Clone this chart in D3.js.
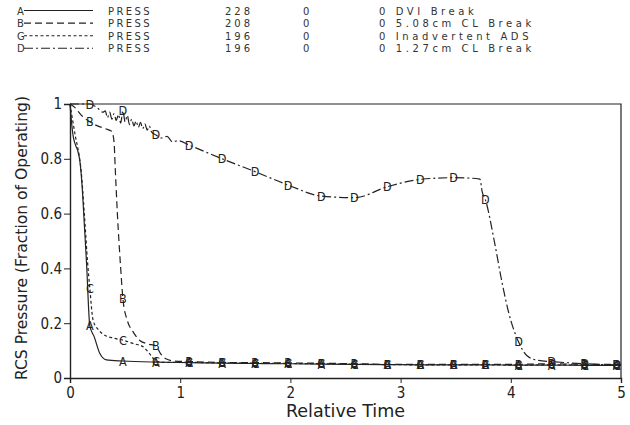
<!DOCTYPE html>
<html>
<head>
<meta charset="utf-8">
<script src="https://cdn.jsdelivr.net/npm/d3@7"></script>
<style>
  body { margin: 0; background: #fff; }
  text { font-family: "DejaVu Sans Condensed", "Liberation Sans Narrow", "DejaVu Sans", sans-serif; font-stretch: condensed; fill: #222; }
  .legend text { font-family: "DejaVu Sans", sans-serif; font-stretch: normal; font-size: 10px; letter-spacing: 3px; fill: #333; }
</style>
</head>
<body>
<div id="chart"></div>
<script>
// legend rows
const legendKeys = ['A', 'B', 'G', 'D']
const legendVar = ['PRESS', 'PRESS', 'PRESS', 'PRESS']
const legendNum = ['228', '208', '196', '196']
const legendZero = ['0', '0', '0', '0']
const legendCase = ['0 DVI Break', '0 5.08cm CL Break', '0 Inadvertent ADS', '0 1.27cm CL Break']

// marker times (shared by all curves)
const markerX = [0.18, 0.48, 0.78, 1.08, 1.38, 1.68, 1.98, 2.28, 2.58, 2.88, 3.18, 3.48, 3.77, 4.07, 4.37, 4.67, 4.96]

// A: DVI break (solid)
const seriesA = [
  [0, 1], [0.01, 0.95], [0.03, 0.88], [0.05, 0.85], [0.07, 0.83], [0.09, 0.79], [0.11, 0.7],
  [0.13, 0.56], [0.15, 0.42], [0.18, 0.19], [0.22, 0.15], [0.27, 0.09], [0.33, 0.066],
  [0.48, 0.062], [0.78, 0.058], [1.08, 0.056], [1.38, 0.054], [1.68, 0.053], [1.98, 0.052],
  [2.28, 0.051], [2.58, 0.05], [2.88, 0.049], [3.18, 0.048], [3.48, 0.048], [3.77, 0.048],
  [4.07, 0.047], [4.37, 0.047], [4.67, 0.046], [4.96, 0.046], [5, 0.046]
]
// B: 5.08cm CL break (long dash)
const seriesB = [
  [0, 1], [0.05, 0.985], [0.1, 0.96], [0.18, 0.935], [0.25, 0.92], [0.32, 0.91], [0.38, 0.9],
  [0.4, 0.86], [0.41, 0.77], [0.43, 0.6], [0.46, 0.4], [0.48, 0.29], [0.52, 0.21], [0.57, 0.17],
  [0.63, 0.138], [0.7, 0.125], [0.78, 0.117], [0.82, 0.09], [0.87, 0.07], [0.95, 0.062],
  [1.08, 0.06], [1.38, 0.057], [1.68, 0.056], [1.98, 0.055], [2.28, 0.054], [2.58, 0.052],
  [2.88, 0.05], [3.18, 0.05], [3.48, 0.05], [3.77, 0.05], [4.07, 0.05], [4.37, 0.052],
  [4.67, 0.05], [4.96, 0.05], [5, 0.05]
]
// G: inadvertent ADS (short dash)
const seriesG = [
  [0, 1], [0.02, 0.95], [0.05, 0.88], [0.08, 0.82], [0.1, 0.76], [0.13, 0.6], [0.16, 0.42],
  [0.18, 0.327], [0.21, 0.21], [0.26, 0.175], [0.3, 0.16], [0.4, 0.145], [0.48, 0.138],
  [0.58, 0.125], [0.66, 0.115], [0.72, 0.09], [0.78, 0.062], [0.85, 0.057], [1.08, 0.057],
  [1.38, 0.055], [1.68, 0.054], [1.98, 0.053], [2.28, 0.052], [2.58, 0.05], [2.88, 0.049],
  [3.18, 0.048], [3.48, 0.048], [3.77, 0.048], [4.07, 0.047], [4.37, 0.048], [4.67, 0.047],
  [4.96, 0.046], [5, 0.046]
]
// D: 1.27cm CL break (dash-dot)
const seriesD = [
  [0, 1], [0.05, 1.0], [0.18, 1.0], [0.25, 0.985], [0.3, 0.97], [0.32, 0.975], [0.34, 0.95],
  [0.36, 0.97], [0.38, 0.945], [0.4, 0.965], [0.42, 0.94], [0.44, 0.962], [0.46, 0.93],
  [0.48, 0.975], [0.5, 0.935], [0.52, 0.958], [0.54, 0.925], [0.56, 0.945], [0.58, 0.92],
  [0.6, 0.938], [0.62, 0.915], [0.64, 0.933], [0.66, 0.91], [0.68, 0.928], [0.7, 0.905],
  [0.72, 0.92], [0.74, 0.898], [0.78, 0.887], [0.83, 0.876], [0.88, 0.882], [0.93, 0.862],
  [0.98, 0.866], [1.08, 0.85], [1.38, 0.8], [1.68, 0.753], [1.98, 0.704], [2.28, 0.664],
  [2.58, 0.658], [2.88, 0.698], [3.18, 0.725], [3.48, 0.731], [3.6, 0.73], [3.72, 0.726],
  [3.74, 0.68], [3.77, 0.65], [3.85, 0.5], [3.92, 0.35], [3.98, 0.24], [4.07, 0.132],
  [4.15, 0.08], [4.25, 0.064], [4.37, 0.06], [4.67, 0.052], [4.96, 0.048], [5, 0.048]
]

const xTicks = [0, 1, 2, 3, 4, 5]
const yTicks = [0, 0.2, 0.4, 0.6, 0.8, 1]

const series = [
  { key: 'A', data: seriesA, dash: null },
  { key: 'B', data: seriesB, dash: '7,4' },
  { key: 'G', data: seriesG, dash: '3,2.5' },
  { key: 'D', data: seriesD, dash: '9,3,2,3' }
]

const width = 630, height = 425
const margin = { top: 104, right: 9, bottom: 47, left: 70 }

const svg = d3.select('#chart').append('svg')
  .attr('width', width)
  .attr('height', height)

// legend
const legend = svg.append('g').attr('class', 'legend')
series.forEach((s, i) => {
  const y = 10.5 + i * 12.6
  legend.append('text').attr('x', 17).attr('y', y + 4).style('letter-spacing', '0px').text(legendKeys[i])
  legend.append('line')
    .attr('x1', 24).attr('x2', 93).attr('y1', y).attr('y2', y)
    .attr('stroke', '#222').attr('stroke-width', 1.1)
    .attr('stroke-dasharray', s.dash)
  legend.append('text').attr('x', 108).attr('y', y + 4).style('letter-spacing', '2.4px').text(legendVar[i])
  legend.append('text').attr('x', 225).attr('y', y + 4).text(legendNum[i])
  legend.append('text').attr('x', 303).attr('y', y + 4).text(legendZero[i])
  legend.append('text').attr('x', 379).attr('y', y + 4).style('letter-spacing', '3.6px').text(legendCase[i])
})

const x = d3.scaleLinear().domain([0, 5]).range([margin.left, width - margin.right])
const y = d3.scaleLinear().domain([0, 1]).range([height - margin.bottom, margin.top])

// frame (top + right)
svg.append('path')
  .attr('d', `M${x(0)},${y(1)}H${x(5)}V${y(0)}`)
  .attr('fill', 'none').attr('stroke', '#222').attr('stroke-width', 1.2)

const xAxis = svg.append('g')
  .attr('transform', `translate(0,${y(0)})`)
  .call(d3.axisBottom(x).tickValues(xTicks).tickFormat(d3.format('d')).tickSize(5).tickPadding(4))
const yAxis = svg.append('g')
  .attr('transform', `translate(${x(0)},0)`)
  .call(d3.axisLeft(y).tickValues(yTicks).tickFormat(d => d === 0 || d === 1 ? d : d3.format('.1f')(d)).tickSize(6).tickPadding(2))

;[xAxis, yAxis].forEach(a => {
  a.select('.domain').attr('stroke', '#222').attr('stroke-width', 1.4)
  a.selectAll('.tick line').attr('stroke', '#222').attr('stroke-width', 1)
  a.selectAll('.tick text').style('font-size', '15px').attr('fill', '#222')
})

// axis titles
svg.append('text')
  .attr('x', (x(0) + x(5)) / 2).attr('y', 417)
  .attr('text-anchor', 'middle')
  .attr('textLength', 119).attr('lengthAdjust', 'spacingAndGlyphs')
  .style('font-size', '18px')
  .text('Relative Time')
svg.append('text')
  .attr('transform', `translate(27,${(y(0) + y(1)) / 2 - 3}) rotate(-90)`)
  .attr('text-anchor', 'middle')
  .attr('textLength', 284).attr('lengthAdjust', 'spacingAndGlyphs')
  .style('font-size', '16.5px')
  .text('RCS Pressure (Fraction of Operating)')

// curves
const line = d3.line()
  .x(d => x(d[0]))
  .y(d => y(d[1]))
  .curve(d3.curveMonotoneX)

const plot = svg.append('g')
series.forEach(s => {
  plot.append('path')
    .datum(s.data)
    .attr('d', line)
    .attr('fill', 'none')
    .attr('stroke', '#222')
    .attr('stroke-width', 1.2)
    .attr('stroke-dasharray', s.dash)
})

// letter markers
series.forEach(s => {
  const pts = s.data.filter(d => markerX.includes(d[0]))
  plot.selectAll(null)
    .data(pts)
    .join('text')
    .attr('x', d => x(d[0]))
    .attr('y', d => y(d[1]) + 4.5)
    .attr('text-anchor', 'middle')
    .style('font-size', '12.5px')
    .attr('fill', '#222')
    .text(s.key === 'G' ? 'C' : s.key)
})
</script>
</body>
</html>
